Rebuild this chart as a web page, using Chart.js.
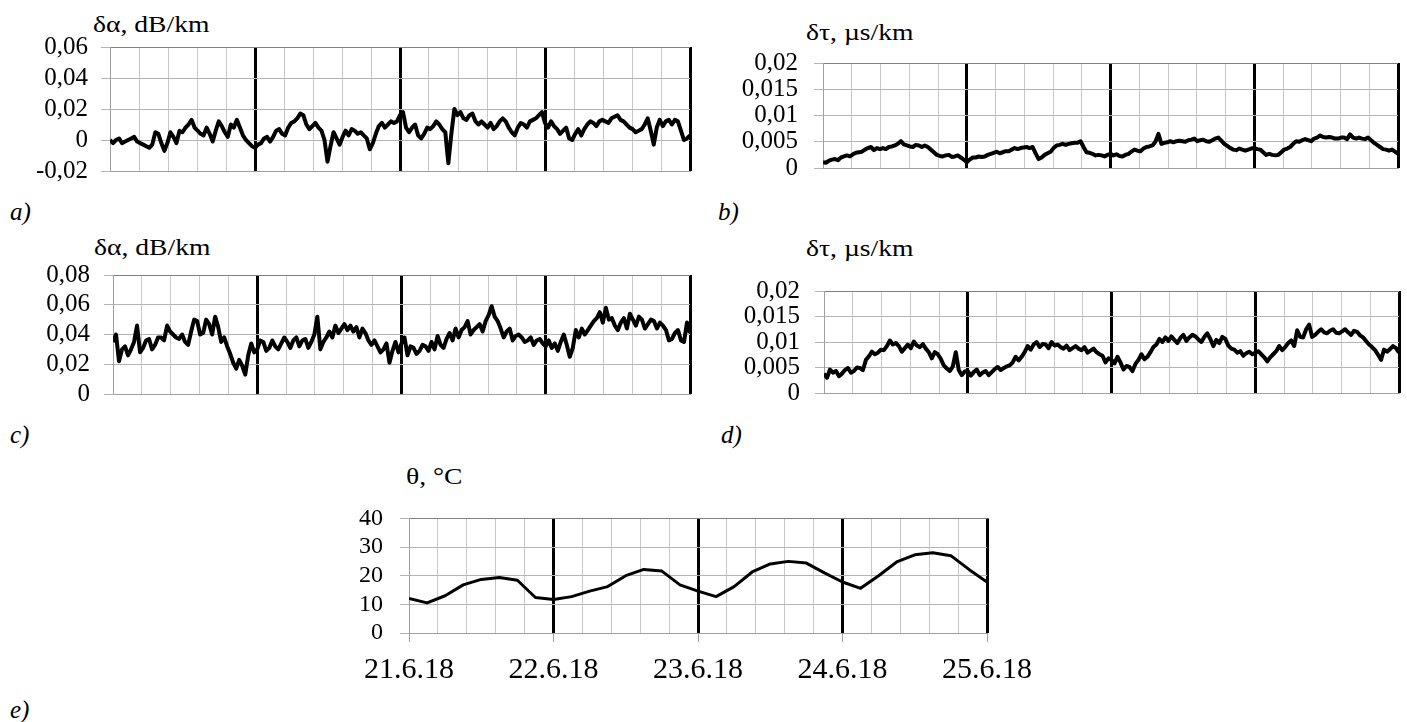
<!DOCTYPE html>
<html>
<head>
<meta charset="utf-8">
<script src="https://cdn.jsdelivr.net/npm/chart.js@4.4.1/dist/chart.umd.min.js"></script>
<style>
  body { margin: 0; background: #fff; width: 1407px; height: 722px; overflow: hidden; position: relative; font-family: "Liberation Serif", serif; }
  canvas { position: absolute; }
  .ttl { position: absolute; font-size: 23px; line-height: 23px; white-space: nowrap; transform: scaleX(1.2); transform-origin: left top; }
  .sub { position: absolute; font-size: 25px; line-height: 25px; font-style: italic; }
</style>
</head>
<body>
<div class="ttl" style="left:93px; top:13px">δα, dB/km</div>
<div class="ttl" style="left:806px; top:21px">δτ, µs/km</div>
<div class="ttl" style="left:94px; top:236px">δα, dB/km</div>
<div class="ttl" style="left:806px; top:237px">δτ, µs/km</div>
<div class="ttl" style="left:406px; top:465px">θ, °C</div>

<div class="sub" style="left:10px; top:199px">a)</div>
<div class="sub" style="left:718px; top:199px">b)</div>
<div class="sub" style="left:10px; top:422px">c)</div>
<div class="sub" style="left:721px; top:422px">d)</div>
<div class="sub" style="left:10px; top:697px">e)</div>

<canvas id="chartA" width="700" height="180" style="left:0px; top:19px"></canvas>
<canvas id="chartB" width="707" height="167" style="left:700px; top:32px"></canvas>
<canvas id="chartC" width="700" height="177" style="left:0px; top:246px"></canvas>
<canvas id="chartD" width="707" height="162" style="left:700px; top:261px"></canvas>
<canvas id="chartE" width="1100" height="206" style="left:0px; top:487px"></canvas>

<script>
// readings on the hour, 21.6.18 00:00 .. 25.6.18 00:00 (97 values)
// and readings at half past (96 values), merged below
const alphaA_hour = [
    0, 0, -0.002, 0, 0.002, -0.002, -0.004, -0.003, 0.004, -0.007,
    0.005, -0.002, 0.005, 0.010, 0.008, 0.004, 0.008, -0.001, 0.012, 0.005,
    0.010, 0.013, 0.003, -0.002, -0.005, -0.002, 0.002, 0.002, 0.007, 0.003,
    0.011, 0.014, 0.016, 0.007, 0.011, 0.006, -0.014, 0.005, -0.003, 0.006,
    0.007, 0.004, 0.003, -0.006, 0.004, 0.011, 0.010, 0.011, 0.016, 0.008,
    0.008, 0.003, 0.004, 0.007, 0.012, 0.007, -0.015, 0.020, 0.018, 0.013,
    0.017, 0.010, 0.010, 0.011, 0.009, 0.014, 0.008, 0.003, 0.011, 0.008,
    0.013, 0.016, 0.011, 0.012, 0.007, 0.006, 0.001, 0.004, 0.003, 0.010,
    0.011, 0.012, 0.012, 0.014, 0.016, 0.012, 0.008, 0.005, 0.007, 0.014,
    -0.003, 0.013, 0.012, 0.010, 0.012, 0.000, 0.003
];
const alphaA_half = [
    -0.002, 0.001, -0.001, 0.001, -0.001, -0.003, -0.005, 0.005, -0.002, -0.002,
    0.002, 0.006, 0.008, 0.013, 0.006, 0.003, 0.004, 0.006, 0.009, 0.002,
    0.008, 0.008, 0.000, -0.004, -0.003, 0.001, -0.001, 0.006, 0.004, 0.008,
    0.012, 0.017, 0.010, 0.009, 0.008, 0.000, -0.004, 0.001, 0.002, 0.003,
    0.006, 0.005, 0.001, -0.002, 0.009, 0.008, 0.012, 0.012, 0.018, 0.005,
    0.010, 0.001, 0.008, 0.009, 0.010, 0.005, 0.004, 0.016, 0.014, 0.016,
    0.012, 0.012, 0.008, 0.007, 0.012, 0.012, 0.005, 0.008, 0.010, 0.012,
    0.014, 0.018, 0.008, 0.009, 0.004, 0.008, 0.000, 0.007, 0.007, 0.012,
    0.009, 0.013, 0.011, 0.015, 0.013, 0.010, 0.007, 0.006, 0.010, 0.006,
    0.008, 0.009, 0.013, 0.013, 0.006, 0.001
];
const tauB_hour = [
    0.0011, 0.0014, 0.0017, 0.0020, 0.0024, 0.0026, 0.0030, 0.0035, 0.0040, 0.0038,
    0.0038, 0.0040, 0.0043, 0.0051, 0.0043, 0.0040, 0.0043, 0.0043, 0.0035, 0.0025,
    0.0022, 0.0025, 0.0022, 0.0020, 0.0011, 0.0020, 0.0022, 0.0022, 0.0027, 0.0031,
    0.0030, 0.0032, 0.0038, 0.0038, 0.0040, 0.0040, 0.0017, 0.0025, 0.0031, 0.0043,
    0.0046, 0.0046, 0.0048, 0.0051, 0.0030, 0.0027, 0.0025, 0.0022, 0.0027, 0.0026,
    0.0022, 0.0027, 0.0035, 0.0032, 0.0040, 0.0043, 0.0065, 0.0048, 0.0051, 0.0051,
    0.0051, 0.0053, 0.0056, 0.0053, 0.0051, 0.0053, 0.0058, 0.0046, 0.0038, 0.0034,
    0.0035, 0.0035, 0.0038, 0.0035, 0.0025, 0.0025, 0.0025, 0.0035, 0.0040, 0.0051,
    0.0053, 0.0053, 0.0056, 0.0062, 0.0058, 0.0058, 0.0056, 0.0058, 0.0064, 0.0056,
    0.0056, 0.0058, 0.0048, 0.0040, 0.0035, 0.0035, 0.0027
];
const tauB_half = [
    0.0010, 0.0016, 0.0015, 0.0022, 0.0022, 0.0029, 0.0031, 0.0038, 0.0034, 0.0036,
    0.0036, 0.0041, 0.0046, 0.0045, 0.0041, 0.0044, 0.0040, 0.0040, 0.0030, 0.0023,
    0.0024, 0.0021, 0.0024, 0.0016, 0.0016, 0.0020, 0.0021, 0.0025, 0.0029, 0.0028,
    0.0032, 0.0035, 0.0036, 0.0039, 0.0038, 0.0028, 0.0020, 0.0028, 0.0038, 0.0044,
    0.0044, 0.0047, 0.0048, 0.0040, 0.0029, 0.0024, 0.0024, 0.0025, 0.0024, 0.0023,
    0.0025, 0.0031, 0.0033, 0.0037, 0.0041, 0.0050, 0.0046, 0.0049, 0.0049, 0.0052,
    0.0050, 0.0054, 0.0051, 0.0054, 0.0050, 0.0056, 0.0052, 0.0042, 0.0035, 0.0037,
    0.0033, 0.0037, 0.0036, 0.0030, 0.0027, 0.0024, 0.0030, 0.0037, 0.0046, 0.0050,
    0.0055, 0.0051, 0.0058, 0.0059, 0.0059, 0.0056, 0.0058, 0.0055, 0.0058, 0.0058,
    0.0055, 0.0053, 0.0044, 0.0036, 0.0033, 0.0031
];
const alphaC_hour = [
    0.035, 0.022, 0.032, 0.030, 0.046, 0.031, 0.037, 0.033, 0.038, 0.046,
    0.040, 0.037, 0.035, 0.042, 0.049, 0.041, 0.047, 0.052, 0.035, 0.032,
    0.021, 0.023, 0.013, 0.034, 0.030, 0.035, 0.031, 0.032, 0.034, 0.035,
    0.036, 0.032, 0.037, 0.035, 0.052, 0.035, 0.042, 0.046, 0.044, 0.043,
    0.042, 0.038, 0.041, 0.033, 0.032, 0.030, 0.021, 0.035, 0.034, 0.026,
    0.031, 0.029, 0.032, 0.035, 0.039, 0.031, 0.041, 0.044, 0.043, 0.049,
    0.043, 0.047, 0.049, 0.059, 0.049, 0.038, 0.044, 0.039, 0.038, 0.036,
    0.033, 0.037, 0.032, 0.031, 0.029, 0.040, 0.025, 0.043, 0.044, 0.043,
    0.049, 0.055, 0.058, 0.051, 0.043, 0.051, 0.054, 0.046, 0.050, 0.047,
    0.049, 0.048, 0.043, 0.037, 0.043, 0.035, 0.041
];
const alphaC_half = [
    0.040, 0.030, 0.026, 0.035, 0.028, 0.036, 0.030, 0.038, 0.036, 0.042,
    0.038, 0.040, 0.033, 0.050, 0.040, 0.050, 0.040, 0.045, 0.038, 0.027,
    0.017, 0.019, 0.026, 0.028, 0.036, 0.029, 0.036, 0.030, 0.038, 0.031,
    0.038, 0.036, 0.031, 0.040, 0.030, 0.038, 0.038, 0.041, 0.047, 0.046,
    0.045, 0.044, 0.036, 0.036, 0.028, 0.034, 0.029, 0.028, 0.038, 0.032,
    0.027, 0.033, 0.029, 0.030, 0.033, 0.037, 0.036, 0.038, 0.045, 0.040,
    0.045, 0.042, 0.053, 0.052, 0.044, 0.042, 0.036, 0.040, 0.035, 0.038,
    0.036, 0.034, 0.036, 0.034, 0.035, 0.033, 0.031, 0.038, 0.040, 0.046,
    0.051, 0.048, 0.050, 0.046, 0.048, 0.044, 0.050, 0.052, 0.044, 0.050,
    0.044, 0.046, 0.036, 0.041, 0.036, 0.048
];
const tauD_hour = [
    0.0038, 0.0046, 0.0043, 0.0038, 0.0049, 0.0043, 0.0049, 0.0065, 0.0081, 0.0079,
    0.0084, 0.0103, 0.0098, 0.0081, 0.0095, 0.0101, 0.0090, 0.0087, 0.0068, 0.0076,
    0.0054, 0.0043, 0.0080, 0.0035, 0.0043, 0.0041, 0.0035, 0.0043, 0.0041, 0.0051,
    0.0049, 0.0054, 0.0071, 0.0071, 0.0092, 0.0095, 0.0090, 0.0095, 0.0100, 0.0095,
    0.0087, 0.0084, 0.0092, 0.0084, 0.0079, 0.0087, 0.0076, 0.0060, 0.0065, 0.0071,
    0.0046, 0.0051, 0.0057, 0.0076, 0.0071, 0.0090, 0.0106, 0.0109, 0.0111, 0.0098,
    0.0114, 0.0109, 0.0111, 0.0100, 0.0117, 0.0092, 0.0098, 0.0106, 0.0087, 0.0079,
    0.0073, 0.0081, 0.0079, 0.0076, 0.0062, 0.0076, 0.0092, 0.0090, 0.0103, 0.0123,
    0.0109, 0.0134, 0.0114, 0.0125, 0.0117, 0.0125, 0.0117, 0.0125, 0.0114, 0.0120,
    0.0109, 0.0095, 0.0084, 0.0065, 0.0081, 0.0092, 0.0079
];
const tauD_half = [
    0.0030, 0.0040, 0.0033, 0.0045, 0.0040, 0.0050, 0.0045, 0.0072, 0.0076, 0.0085,
    0.0092, 0.0095, 0.0092, 0.0088, 0.0088, 0.0093, 0.0096, 0.0080, 0.0080, 0.0067,
    0.0048, 0.0052, 0.0045, 0.0042, 0.0034, 0.0046, 0.0040, 0.0035, 0.0047, 0.0045,
    0.0052, 0.0060, 0.0064, 0.0080, 0.0085, 0.0100, 0.0096, 0.0088, 0.0093, 0.0090,
    0.0093, 0.0088, 0.0087, 0.0090, 0.0083, 0.0080, 0.0073, 0.0068, 0.0058, 0.0060,
    0.0053, 0.0043, 0.0065, 0.0066, 0.0080, 0.0095, 0.0100, 0.0102, 0.0104, 0.0108,
    0.0102, 0.0114, 0.0105, 0.0110, 0.0106, 0.0104, 0.0110, 0.0093, 0.0085, 0.0082,
    0.0078, 0.0076, 0.0082, 0.0070, 0.0070, 0.0082, 0.0084, 0.0098, 0.0092, 0.0110,
    0.0125, 0.0110, 0.0120, 0.0119, 0.0122, 0.0118, 0.0121, 0.0119, 0.0122, 0.0113,
    0.0102, 0.0090, 0.0075, 0.0085, 0.0086, 0.0088
];
// temperature every 3 hours
const tempE = [
    12.1, 10.5, 13, 16.8, 18.7, 19.4, 18.4, 12.4,
    11.7, 12.7, 14.6, 16.2, 20, 22.2, 21.6, 16.8,
    14.6, 12.7, 16.2, 21.3, 24.1, 25, 24.4, 21,
    17.8, 15.6, 20, 24.8, 27.3, 28, 27, 22.2,
    17.8
];
const dateLabels = ["21.6.18", "22.6.18", "23.6.18", "24.6.18", "25.6.18"];

const serif = "'Liberation Serif', 'Times New Roman', serif";

// merging on-the-hour and half-past readings into one half-hourly series
function mergeHalfHours(hourVals, halfVals) {
    const out = [];
    hourVals.forEach((v, i) => {
        out.push(v);
        if (i < halfVals.length) out.push(halfVals[i]);
    });
    return out;
}

function isDay(v) {
    return Math.abs(v / 24 - Math.round(v / 24)) < 1e-6;
}

function commaNum(v) {
    const r = Math.round(v * 10000) / 10000;
    return String(r).replace(".", ",");
}

function makePanel(id, values, stepH, y, box) {
    const points = values.map((v, i) => ({ x: i * stepH, y: v }));
    const dates = !!box.dates;

    return new Chart(document.getElementById(id), {
        type: "line",
        data: {
            datasets: [{
                data: points,
                borderColor: "#000",
                borderWidth: box.lineW,
                pointRadius: 0,
                tension: 0,
                borderJoinStyle: "round"
            }]
        },
        options: {
            responsive: false,
            animation: false,
            devicePixelRatio: 1,
            layout: { padding: box.pad },
            plugins: { legend: { display: false }, tooltip: { enabled: false } },
            scales: {
                x: {
                    type: "linear",
                    min: 0,
                    max: 96,
                    ticks: {
                        display: dates,
                        stepSize: 4.8,
                        autoSkip: false,
                        maxRotation: 0,
                        padding: 10,
                        color: "#000",
                        font: { family: serif, size: 30 },
                        callback: v => isDay(v) ? dateLabels[Math.round(v / 24)] : ""
                    },
                    grid: {
                        color: c => (isDay(c.tick.value) && c.tick.value > 0) ? "#000" : "#c8c8c8",
                        lineWidth: c => (isDay(c.tick.value) && c.tick.value > 0) ? 3 : 1,
                        drawTicks: dates,
                        tickLength: 9,
                        tickWidth: 1,
                        tickColor: c => isDay(c.tick.value) ? "#a0a0a0" : "rgba(0,0,0,0)"
                    },
                    border: { color: "#a0a0a0", width: 1 },
                    afterFit: s => { s.height = box.xH; }
                },
                y: {
                    min: y.min,
                    max: y.max,
                    ticks: {
                        stepSize: y.step,
                        autoSkip: false,
                        padding: box.tickPad,
                        color: "#000",
                        font: { family: serif, size: box.font },
                        callback: v => commaNum(v)
                    },
                    grid: {
                        color: c => c.tick.value === y.max ? "#808080" : "#b4b4b4",
                        tickLength: 9,
                        tickColor: "#b4b4b4"
                    },
                    border: { color: "#a0a0a0", width: 1 },
                    afterFit: s => { s.width = box.yW; }
                }
            }
        }
    });
}

makePanel("chartA", mergeHalfHours(alphaA_hour, alphaA_half), 0.5, { min: -0.02, max: 0.06, step: 0.02 },
    { yW: 110, xH: 0, pad: { top: 20, bottom: 20, left: 0, right: 10 }, tickPad: 13, font: 25, lineW: 4 });
makePanel("chartB", mergeHalfHours(tauB_hour, tauB_half), 0.5, { min: 0, max: 0.02, step: 0.005 },
    { yW: 123, xH: 0, pad: { top: 20, bottom: 20, left: 0, right: 9 }, tickPad: 16, font: 25, lineW: 4 });
makePanel("chartC", mergeHalfHours(alphaC_hour, alphaC_half), 0.5, { min: 0, max: 0.08, step: 0.02 },
    { yW: 113, xH: 0, pad: { top: 20, bottom: 20, left: 0, right: 10 }, tickPad: 14, font: 25, lineW: 4 });
makePanel("chartD", mergeHalfHours(tauD_hour, tauD_half), 0.5, { min: 0, max: 0.02, step: 0.005 },
    { yW: 124, xH: 0, pad: { top: 20, bottom: 20, left: 0, right: 8 }, tickPad: 15, font: 25, lineW: 4 });
makePanel("chartE", tempE, 3, { min: 0, max: 40, step: 10 },
    { yW: 409, xH: 60, pad: { top: 20, bottom: 0, left: 0, right: 113 }, tickPad: 17, font: 24, lineW: 3, dates: true });
</script>
</body>
</html>
